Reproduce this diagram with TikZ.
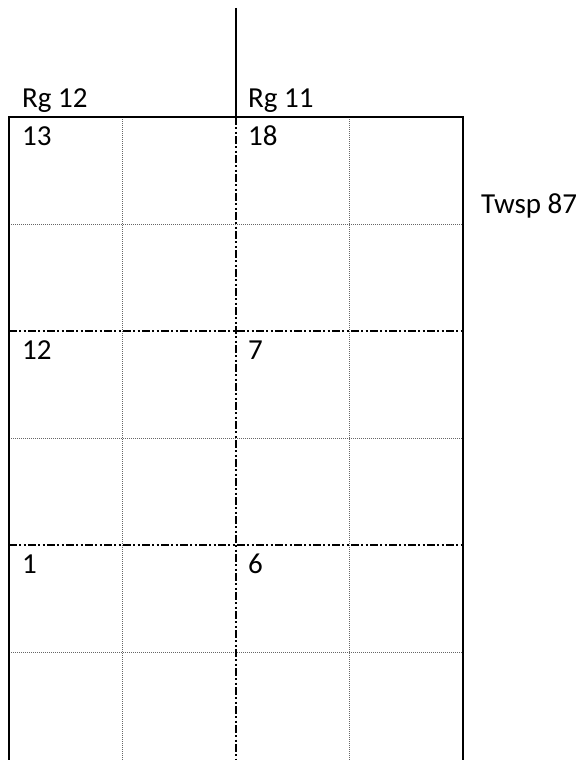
\documentclass[tikz,border=0pt]{standalone}
\usepackage{fontspec}
\setmainfont{Carlito}
\begin{document}
\begin{tikzpicture}[x=1pt,y=-1pt,
  lbl/.style={anchor=base west,inner sep=0pt,font=\fontsize{29}{34}\selectfont},
  border/.style={line width=2.6pt},
  finegrid/.style={black!60,line width=1pt,dash pattern=on 1pt off 1pt},
  section/.style={line width=2.3pt,dash pattern=on 8pt off 2.2pt on 2.2pt off 2.2pt on 2.2pt off 2.2pt}]
\useasboundingbox (0,0) rectangle (579,760);
% coordinates
\coordinate (tl) at (9,117);
\coordinate (tr) at (463,117);
\coordinate (bl) at (9,762);
\coordinate (br) at (463,762);
\coordinate (ctop) at (236,8);
\coordinate (cmid) at (236,117);
\coordinate (cbot) at (236,762);
% fine dotted grid
\foreach \x in {122.5,349.5} \draw[finegrid] (\x,117) -- (\x,762);
\foreach \y in {224,438,652} \draw[finegrid] (9,\y) -- (463,\y);
% section lines
\foreach \y in {331,545} \draw[section] (9,\y) -- (463,\y);
\draw[section] (cmid) -- (cbot);
% solid lines
\draw[line width=2.3pt] (ctop) -- (cmid);
\draw[border] (bl) -- (tl) -- (tr) -- (br);
% labels
\node[lbl] (rg12) at (22,107) {Rg 12};
\node[lbl] (rg11) at (248,107) {Rg 11};
\node[lbl] (twsp) at (481,213) {Twsp 87};
\node[lbl] (s13) at (22,145) {13};
\node[lbl] (s18) at (248,145) {18};
\node[lbl] (s12) at (22,359) {12};
\node[lbl] (s7) at (248,359) {7};
\node[lbl] (s1) at (22,573) {1};
\node[lbl] (s6) at (248,573) {6};
\end{tikzpicture}
\end{document}
